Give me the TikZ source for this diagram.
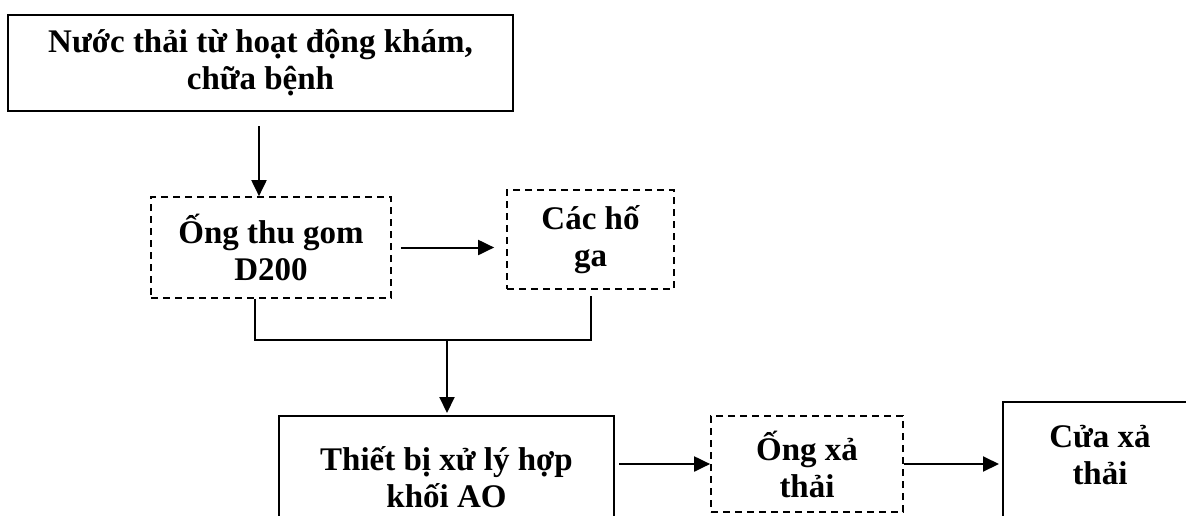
\documentclass[tikz,border=0pt]{standalone}
\usepackage{fontspec}
\setmainfont{Liberation Serif}
\usepackage{tikz}
\usetikzlibrary{arrows.meta,calc}

\tikzset{
  solidbox/.style={draw, line width=2pt, inner sep=0pt, align=center,
    font=\bfseries\fontsize{33}{37}\selectfont},
  dashbox/.style={solidbox, line width=1.7pt, dash pattern=on 7pt off 5pt},
  arr/.style={line width=2pt, -{Triangle[length=16pt,width=15pt]}}
}

\begin{document}
\begin{tikzpicture}[x=1pt, y=-1pt]
  \useasboundingbox (0,0) rectangle (1186,515);
  \node[solidbox, minimum width=505, minimum height=96] (src) at (260.5,63) {Nước thải từ hoạt động khám,\\chữa bệnh};
  \node[dashbox, minimum width=240, minimum height=101] (ong) at (271,247.5) {Ống thu gom\\D200};
  \node[dashbox, minimum width=167, minimum height=99] (hoga) at (590.5,239.5) {Các hố\\ga};
  \node[solidbox, minimum width=335, minimum height=122] (ao) at (446.5,477) {Thiết bị xử lý hợp\\khối AO};
  \node[dashbox, minimum width=192, minimum height=96] (oxa) at (807,464) {Ống xả\\thải};
  \node[solidbox, minimum width=194, minimum height=170] (cuaxa) at (1100,487) {};
  \node[font=\bfseries\fontsize{33}{37}\selectfont, align=center] (cuaxatxt) at (1100,455) {Cửa xả\\thải};
  \coordinate (srcout) at ($(src.south)+(-1.5,0)$);
  \coordinate (ongout) at ($(ong.south)+(-16,0)$);
  \coordinate (join) at (447,340);
  % connectors
  \path[arr]
  (srcout) edge[shorten <=14pt] (srcout |- ong.north)
  (ong.east) edge[shorten <=9pt, shorten >=12pt] (ong.east -| hoga.west)
  (join) edge[shorten >=2pt] (join |- ao.north)
  (ao.east |- oxa.west) edge[shorten <=4pt] (oxa.west)
  (oxa.east) edge[shorten >=3pt] (oxa.east -| cuaxa.west)
  ;
  \draw[line width=2pt] (ongout) |- (join) -| ($(hoga.south)+(0,6)$);
\end{tikzpicture}
\end{document}
